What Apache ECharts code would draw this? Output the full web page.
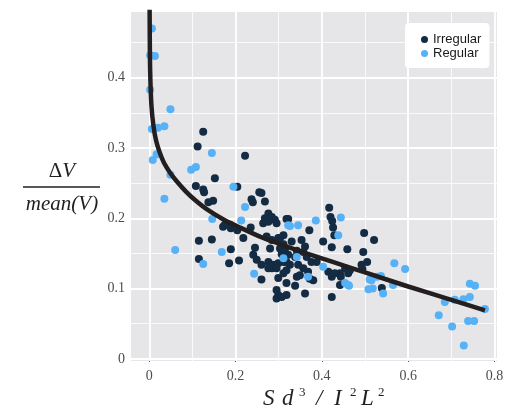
<!DOCTYPE html>
<html>
<head>
<meta charset="utf-8">
<script src="https://cdn.jsdelivr.net/npm/echarts@6/dist/echarts.min.js"></script>
<style>html,body{margin:0;padding:0;background:#fff}#c{width:529px;height:411px}</style>
</head>
<body>
<div id="c"></div>
<script>
var seriesNames = ['Irregular', 'Regular'];
var xTicks = [0, 0.2, 0.4, 0.6, 0.8];
var yTicks = [0, 0.1, 0.2, 0.3, 0.4];
var xMinor = [0.1, 0.3, 0.5, 0.7];
var yMinor = [0.05, 0.15, 0.25, 0.35, 0.45];

var irregular = [
[0.125,0.323],[0.112,0.302],[0.222,0.289],[0.152,0.257],[0.108,0.246],[0.204,0.245],[0.125,0.241],[0.127,0.237],[0.255,0.237],[0.26,0.236],[0.237,0.227],[0.24,0.223],[0.268,0.224],[0.137,0.223],[0.148,0.225],
[0.276,0.207],[0.268,0.2],[0.284,0.202],[0.291,0.198],[0.276,0.195],[0.264,0.193],[0.295,0.193],[0.318,0.199],[0.175,0.191],[0.187,0.191],
[0.322,0.199],[0.417,0.215],[0.42,0.202],[0.424,0.196],[0.426,0.187],[0.429,0.176],
[0.171,0.188],[0.189,0.186],[0.204,0.183],[0.235,0.187],[0.218,0.172],
[0.272,0.174],[0.284,0.169],[0.299,0.172],[0.311,0.176],[0.115,0.168],[0.145,0.17],[0.189,0.156],[0.245,0.158],[0.28,0.157],[0.115,0.142],[0.185,0.136],[0.208,0.14],[0.241,0.148],[0.249,0.141],
[0.26,0.134],[0.276,0.138],[0.287,0.134],[0.299,0.136],[0.311,0.138],[0.284,0.129],[0.295,0.129],[0.276,0.129],
[0.26,0.113],[0.299,0.115],[0.318,0.108],[0.295,0.098],[0.299,0.091],[0.295,0.086],[0.322,0.148],[0.318,0.138],[0.303,0.157],[0.311,0.163],
[0.371,0.183],[0.403,0.167],[0.423,0.159],[0.459,0.156],[0.498,0.179],[0.521,0.169],[0.496,0.152],[0.505,0.138],
[0.303,0.172],[0.33,0.167],[0.353,0.169],[0.361,0.16],[0.357,0.152],[0.342,0.154],[0.315,0.157],[0.307,0.149],[0.338,0.145],[0.365,0.145],[0.376,0.138],[0.388,0.138],
[0.326,0.134],[0.345,0.134],[0.357,0.129],[0.318,0.126],[0.311,0.122],[0.342,0.117],[0.349,0.119],[0.368,0.124],[0.372,0.114],[0.38,0.112],[0.415,0.124],[0.423,0.117],[0.43,0.122],[0.442,0.122],[0.454,0.129],[0.461,0.122],
[0.442,0.105],[0.338,0.104],[0.361,0.093],[0.423,0.088],[0.492,0.134],[0.494,0.128],[0.539,0.101],[0.444,0.117],[0.465,0.126],[0.307,0.088],[0.318,0.091]
];

var regular = [
[0.006,0.470],[0.002,0.432],[0.013,0.431],[0.002,0.383],[0.049,0.355],[0.006,0.327],[0.02,0.329],[0.035,0.331],[0.017,0.291],[0.008,0.283],[0.049,0.262],[0.097,0.269],[0.108,0.273],[0.035,0.228],[0.145,0.293],[0.195,0.245],[0.06,0.155],[0.125,0.135],[0.146,0.199],[0.213,0.197],[0.222,0.216],[0.168,0.152],[0.243,0.121],[0.322,0.19],[0.326,0.189],[0.345,0.19],[0.386,0.197],[0.444,0.201],[0.438,0.176],[0.342,0.145],[0.311,0.143],[0.403,0.131],[0.368,0.117],[0.461,0.105],[0.454,0.108],[0.463,0.104],[0.568,0.136],[0.593,0.128],[0.528,0.117],[0.537,0.118],[0.515,0.112],[0.511,0.113],[0.508,0.099],[0.518,0.1],[0.542,0.093],[0.565,0.105],[0.743,0.107],[0.755,0.104],[0.743,0.088],[0.728,0.085],[0.708,0.084],[0.685,0.081],[0.778,0.071],[0.671,0.062],[0.702,0.046],[0.739,0.054],[0.753,0.054],[0.729,0.019]
];

var fitCurve = [
[0.0003,0.56],[0.001,0.47],[0.002,0.41],[0.005,0.36],[0.01,0.33],[0.016,0.31],[0.024,0.294],[0.034,0.279],[0.047,0.266],[0.063,0.253],[0.085,0.238],[0.106,0.226],[0.133,0.213],[0.17,0.199],[0.21,0.187],[0.264,0.172],[0.3,0.164],[0.35,0.153],[0.42,0.139],[0.5,0.123],[0.6,0.103],[0.7,0.084],[0.778,0.069]
];

var chart = echarts.init(document.getElementById('c'), null, {renderer: 'canvas'});
var serif = '"Liberation Serif", "DejaVu Serif", serif';
var sans = '"Liberation Sans", Arial, sans-serif';

function gridLines(axis, vals, w) {
  return vals.map(function (v) {
    var o = {lineStyle: {width: w, color: '#ffffff', type: 'solid'}};
    o[axis] = v;
    return o;
  });
}

var option = {
  animation: false,
  grid: {left: 131, top: 12, width: 366, height: 349, show: true, backgroundColor: '#E6E6E8', borderWidth: 0, outerBoundsMode: 'none', containLabel: false},
  legend: {
    orient: 'vertical', left: 405, top: 23,
    data: seriesNames,
    icon: 'circle', itemWidth: 7, itemHeight: 7, itemGap: 1,
    padding: [10, 8, 8, 16],
    backgroundColor: '#ffffff', borderRadius: 4,
    textStyle: {fontFamily: sans, fontSize: 13, color: '#1a1a1a', lineHeight: 13}
  },
  xAxis: {
    type: 'value', min: -0.0424, max: 0.806,
    axisLine: {show: false},
    splitLine: {show: false},
    axisTick: {show: true, length: 3, customValues: xTicks, lineStyle: {color: '#444', width: 1}},
    axisLabel: {customValues: xTicks, margin: 8, fontFamily: serif, fontSize: 14, color: '#4d4d4d'}
  },
  yAxis: {
    type: 'value', min: -0.003, max: 0.4935,
    axisLine: {show: false},
    splitLine: {show: false},
    axisTick: {show: true, length: 3, customValues: yTicks, lineStyle: {color: '#444', width: 1}},
    axisLabel: {customValues: yTicks, margin: 6, fontFamily: serif, fontSize: 14, color: '#4d4d4d'}
  },
  series: [
    {
      type: 'line', data: [], silent: true,
      markLine: {
        silent: true, symbol: 'none', z: 1, animation: false,
        label: {show: false},
        emphasis: {disabled: true},
        data: [].concat(
          gridLines('xAxis', xMinor, 0.8),
          gridLines('yAxis', yMinor, 0.8),
          gridLines('xAxis', xTicks, 1.8),
          gridLines('yAxis', yTicks, 1.8)
        )
      }
    },
    {
      name: 'Irregular', type: 'scatter', data: irregular, z: 3,
      symbolSize: 8, itemStyle: {color: '#132B43', opacity: 1}
    },
    {
      name: 'Regular', type: 'scatter', data: regular, z: 3,
      symbolSize: 8, itemStyle: {color: '#56B1F7', opacity: 1}
    },
    {
      type: 'line', data: fitCurve, z: 4, showSymbol: false, symbol: 'none', smooth: 0.3,
      clip: true, silent: true,
      lineStyle: {color: '#231F20', width: 4.5}
    }
  ],
  graphic: [
    {type: 'text', x: 62, y: 171, style: {text: '{d|Δ}{v|V}', align: 'center', verticalAlign: 'middle',
      rich: {d: {fontFamily: serif, fontSize: 21, fill: '#231F20'}, v: {fontFamily: serif, fontStyle: 'italic', fontSize: 21, fill: '#231F20'}}}},
    {type: 'line', shape: {x1: 23, y1: 187, x2: 100, y2: 187}, style: {stroke: '#231F20', lineWidth: 1.5}},
    {type: 'text', x: 62, y: 204, style: {text: 'mean(V)', align: 'center', verticalAlign: 'middle', fontFamily: serif, fontStyle: 'italic', fontSize: 21, fill: '#231F20'}},
    {type: 'text', x: 263, y: 399, style: {text: 'S', align: 'left', verticalAlign: 'middle', fontFamily: serif, fontStyle: 'italic', fontSize: 23, fill: '#231F20'}},
    {type: 'text', x: 282, y: 399, style: {text: 'd', align: 'left', verticalAlign: 'middle', fontFamily: serif, fontStyle: 'italic', fontSize: 23, fill: '#231F20'}},
    {type: 'text', x: 299, y: 393, style: {text: '3', align: 'left', verticalAlign: 'middle', fontFamily: serif, fontSize: 13, fill: '#231F20'}},
    {type: 'text', x: 316, y: 399, style: {text: '/', align: 'left', verticalAlign: 'middle', fontFamily: serif, fontStyle: 'italic', fontSize: 23, fill: '#231F20'}},
    {type: 'text', x: 334, y: 399, style: {text: 'I', align: 'left', verticalAlign: 'middle', fontFamily: serif, fontStyle: 'italic', fontSize: 23, fill: '#231F20'}},
    {type: 'text', x: 350, y: 393, style: {text: '2', align: 'left', verticalAlign: 'middle', fontFamily: serif, fontSize: 13, fill: '#231F20'}},
    {type: 'text', x: 361, y: 399, style: {text: 'L', align: 'left', verticalAlign: 'middle', fontFamily: serif, fontStyle: 'italic', fontSize: 23, fill: '#231F20'}},
    {type: 'text', x: 378, y: 393, style: {text: '2', align: 'left', verticalAlign: 'middle', fontFamily: serif, fontSize: 13, fill: '#231F20'}}
  ]
};
chart.setOption(option);
</script>
</body>
</html>
